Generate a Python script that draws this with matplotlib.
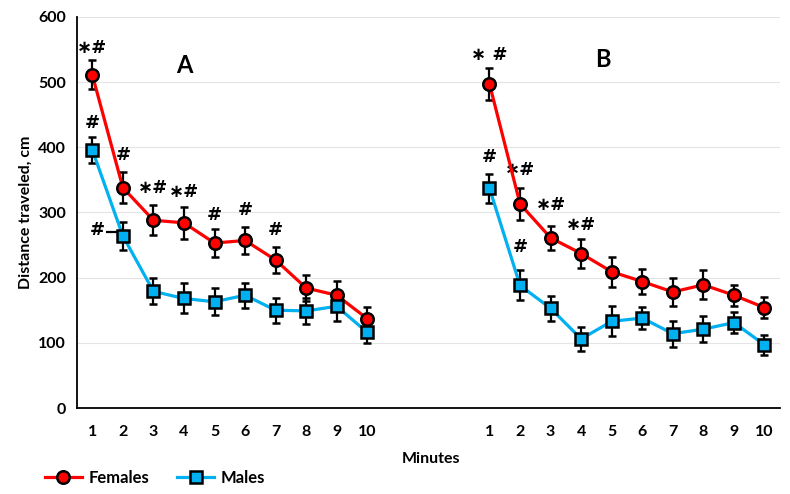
import numpy as np
import matplotlib.pyplot as plt

plt.rcParams['font.family'] = ['Lato', 'DejaVu Sans']
plt.rcParams['font.weight'] = 'bold'

minutes = [str(i) for i in range(1, 11)]

# panel A
fem_a = [511, 338, 288, 284, 253, 257, 227, 184, 173, 137]
fem_a_err = [22, 24, 23, 24, 22, 20, 20, 20, 22, 18]
male_a = [396, 264, 179, 168, 163, 173, 150, 149, 156, 116]
male_a_err = [20, 22, 20, 23, 21, 19, 19, 20, 22, 16]

# panel B
fem_b = [497, 313, 261, 237, 209, 194, 178, 189, 173, 154]
fem_b_err = [25, 25, 18, 22, 23, 19, 21, 22, 16, 16]
male_b = [337, 188, 153, 106, 133, 138, 114, 121, 131, 97]
male_b_err = [22, 23, 19, 19, 23, 17, 20, 20, 16, 15]

# significance marks: (panel, minute index, x shift, height, text)
marks = [
    ('A', 0, 0, 552, '∗#'), ('A', 0, 0, 437, '#'), ('A', 1, 0, 388, '#'),
    ('A', 1, -0.85, 273, '#'),
    ('A', 2, 0, 337, '∗#'), ('A', 3, 0, 331, '∗#'), ('A', 4, 0, 296, '#'),
    ('A', 5, 0, 304, '#'), ('A', 6, 0, 273, '#'),
    ('B', 0, 0, 541, '∗ #'), ('B', 0, 0, 385, '#'), ('B', 1, 0, 365, '∗#'),
    ('B', 2, 0, 311, '∗#'), ('B', 3, 0, 281, '∗#'), ('B', 1, 0, 247, '#'),
]

xa = np.arange(10)
xb = np.arange(13, 23)
red = '#FF0000'
blue = '#00B0F0'

fig = plt.figure(figsize=(7.9, 4.94), dpi=100)
ax = fig.add_axes([0.0975, 0.174, 0.8895, 0.792])

ax.set_axisbelow(True)
ax.grid(axis='y', color='#e4e4e4', lw=0.8)

style = dict(lw=2.3, ms=9, mec='black', mew=1.8, ecolor='black',
             elinewidth=1.6, capsize=3, capthick=1.6, zorder=3)
for x, f, fe, m, me in [(xa, fem_a, fem_a_err, male_a, male_a_err),
                        (xb, fem_b, fem_b_err, male_b, male_b_err)]:
    lf = ax.errorbar(x, f, yerr=fe, color=red, marker='o', mfc=red, **style)
    lm = ax.errorbar(x, m, yerr=me, color=blue, marker='s', mfc=blue, **style)

for panel, i, dx, yv, txt in marks:
    x = (xa if panel == 'A' else xb)[i] + dx
    ax.text(x, yv, txt, ha='center', va='center', fontsize=13,
            fontweight='bold', family=['DejaVu Sans'])
# stray dash beside the # at A minute 2
ax.hlines(270, xa[1] - 0.55, xa[1] - 0.15, color='black', lw=1.6)

ax.text(3, 526, 'A', ha='center', va='center', fontsize=17, fontweight='bold')
ax.text(16.7, 534, 'B', ha='center', va='center', fontsize=17, fontweight='bold')

ax.set_xlim(-0.5, 22.5)
ax.set_ylim(0, 600)
ax.set_yticks(range(0, 601, 100))
ax.set_xticks(list(xa) + list(xb))
ax.set_xticklabels(minutes + minutes)
ax.tick_params(length=0, labelsize=11.5, pad=12)
ax.tick_params(axis='y', pad=8)
for lab in ax.get_xticklabels() + ax.get_yticklabels():
    lab.set_fontweight('bold')
for s in ['top', 'right']:
    ax.spines[s].set_visible(False)
ax.spines['left'].set_linewidth(1.3)
ax.spines['bottom'].set_linewidth(1.3)

ax.set_ylabel('Distance traveled, cm', fontsize=11.5, fontweight='bold')
fig.text(0.545, 0.07, 'Minutes', ha='center', va='center', fontsize=11.5,
         fontweight='bold')

fig.legend([lf[0], lm[0]], ['Females', 'Males'], loc='center left',
           bbox_to_anchor=(0.038, 0.033), ncol=2, frameon=False,
           handlelength=2.2, handletextpad=0.4, columnspacing=1.7,
           prop={'weight': 'bold', 'size': 12})

fig.savefig('out.png', dpi=100)
